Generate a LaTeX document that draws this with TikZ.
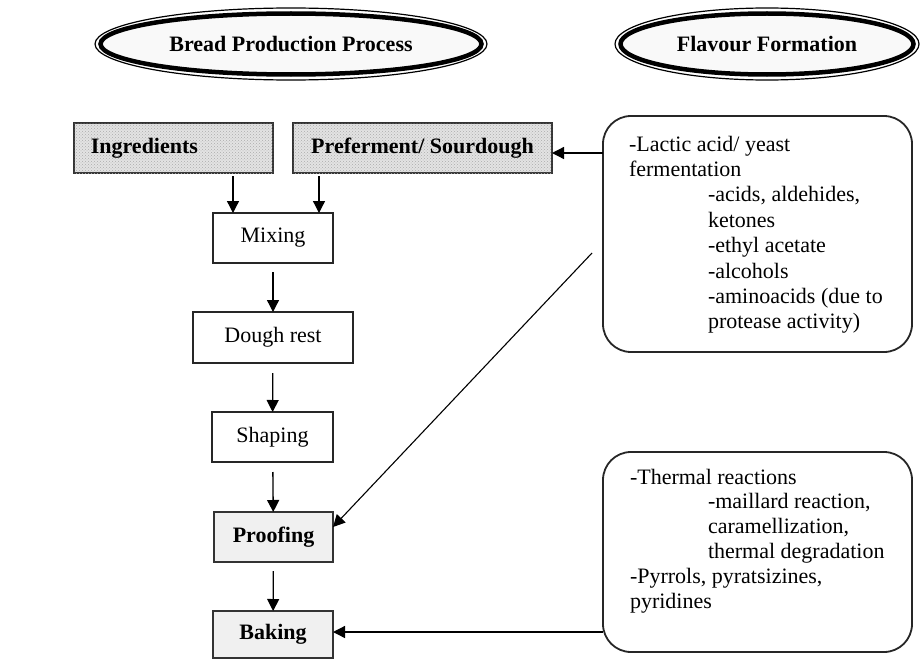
\documentclass[tikz,border=0pt]{standalone}
\usepackage{fontspec}
\setmainfont{Liberation Serif}
\usetikzlibrary{arrows.meta,shapes.geometric,patterns,calc}
\begin{document}
\begin{tikzpicture}[x=1pt,y=-1pt,
  every node/.style={inner sep=0pt, outer sep=0pt},
  txt/.style={font=\fontsize{22}{25}\selectfont},
  btxt/.style={font=\fontsize{22}{25}\selectfont\bfseries},
  plainbox/.style={draw=black!85, line width=1.4pt, fill=white, txt},
  dotbox/.style={draw=black!80, line width=1.4pt, fill=gray!22, btxt,
    postaction={pattern=crosshatch dots, pattern color=gray!65}},
  stagebox/.style={draw=black!80, line width=2.4pt, fill=gray!12, btxt},
  notebox/.style={draw=black!85, line width=1.8pt, rounded corners=28pt},
  headring/.style={ellipse, draw=black, line width=4.5pt, fill=gray!5, btxt},
  headouter/.style={ellipse, draw=black, line width=1.2pt},
  arr/.style={line width=1.3pt, -{Triangle[length=12pt,width=12pt]}},
]
\useasboundingbox (0,0) rectangle (920,661);

% headings
\node[headouter, minimum width=392pt, minimum height=72pt] (h1o) at (291,44) {};
\node[headring, minimum width=381pt, minimum height=61pt] (h1) at (291,44) {Bread Production Process};
\node[headouter, minimum width=304pt, minimum height=72pt] (h2o) at (767,44) {};
\node[headring, minimum width=293pt, minimum height=61pt] (h2) at (767,44) {Flavour Formation};

% process column
\node[dotbox, minimum width=199pt, minimum height=50pt] (ing) at (173.5,148) {};
\node[btxt, anchor=east] (ingtext) at (198,148) {Ingredients};
\node[dotbox, minimum width=259pt, minimum height=50pt] (pref) at (422.5,148) {Preferment/ Sourdough};
\node[plainbox, minimum width=120pt, minimum height=50pt] (mix) at (273,238) {Mixing};
\node[plainbox, minimum width=160pt, minimum height=51pt] (dough) at (273,337.5) {Dough rest};
\node[plainbox, minimum width=121pt, minimum height=50pt] (shape) at (272.5,437) {Shaping};
\node[stagebox, minimum width=119pt, minimum height=50pt] (proof) at (273.5,537) {Proofing};
\node[stagebox, minimum width=120pt, minimum height=47pt] (bake) at (273,634.5) {Baking};

% flavour notes
\node[notebox, minimum width=309pt, minimum height=236pt] (fer) at (757.5,234) {};
\node[notebox, minimum width=309pt, minimum height=200pt] (thm) at (757.5,552) {};

\foreach \t [count=\i] in {-Lactic acid/ yeast, fermentation} {
  \node[txt, anchor=base west] (fa\i) at (629,{151+25.4*(\i-1)}) {\t};
}
\foreach \t [count=\i] in {{-acids, aldehides,}, ketones, -ethyl acetate, -alcohols, -aminoacids (due to, protease activity)} {
  \node[txt, anchor=base west] (fb\i) at (708,{201.8+25.4*(\i-1)}) {\t};
}
\node[txt, anchor=base west] (ta1) at (630,484) {-Thermal reactions};
\foreach \t [count=\i] in {{-maillard reaction,}, {caramellization,}, thermal degradation} {
  \node[txt, anchor=base west] (tb\i) at (708,{508.8+24.8*(\i-1)}) {\t};
}
\node[txt, anchor=base west] (ta2) at (630,583.4) {-Pyrrols, pyratsizines,};
\node[txt, anchor=base west] (ta3) at (630,608.2) {pyridines};

% connectors
\coordinate (mixL) at ([xshift=-40pt]mix.north);
\coordinate (mixR) at ([xshift=46pt]mix.north);
\draw[arr, shorten <=3pt] (mixL |- ing.south) -- (mixL);
\draw[arr, shorten <=3pt] (mixR |- pref.south) -- (mixR);
\draw[arr, shorten <=9pt] (mix) -- (dough);
\draw[arr, shorten <=10pt] (dough) -- (shape);
\draw[arr, shorten <=10pt] (shape) -- (proof);
\draw[arr, shorten <=9pt] (proof) -- (bake);
\draw[arr] (fer.west |- 0,153) -- (pref.east |- 0,153);
\draw[arr] (thm.west |- 0,632) -- (bake.east |- 0,632);
\coordinate (diagstart) at (592,253);
\draw[arr, line width=1.1pt] (diagstart) -- (proof.east |- 0,527);
\end{tikzpicture}
\end{document}
